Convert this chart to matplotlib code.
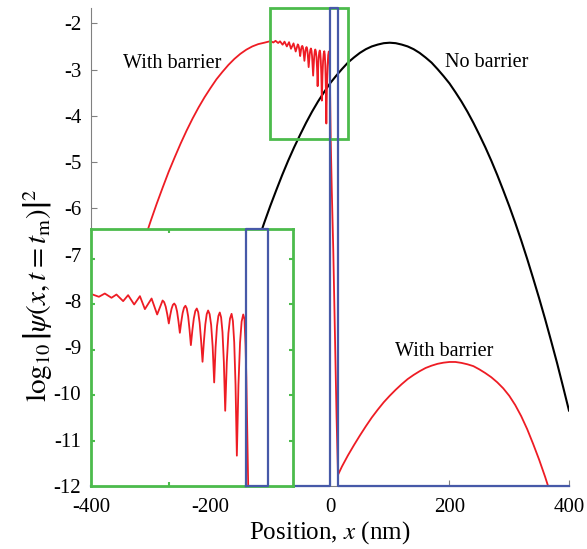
import numpy as np
import matplotlib
matplotlib.use("Agg")
import matplotlib.pyplot as plt
from matplotlib.patches import Rectangle

plt.rcParams['font.family'] = ['Liberation Serif', 'DejaVu Serif']
plt.rcParams['mathtext.fontset'] = 'stix'
plt.rcParams['axes.unicode_minus'] = False

# free wave packet, no barrier
x_free = [-120, -110, -100, -90, -80, -70, -60, -50, -40, -30, -20, -10, 0,
          10, 20, 30, 40, 50, 60, 70, 80, 90, 100, 110, 120, 130, 140, 150,
          160, 170, 180, 190, 200, 210, 220, 230, 240, 250, 260, 270, 280,
          290, 300, 310, 320, 330, 340, 350, 360, 370, 380, 390, 400]
y_free = [-6.69, -6.31, -5.95, -5.61, -5.28, -4.97, -4.68, -4.41, -4.15, -3.91,
          -3.69, -3.49, -3.30, -3.14, -2.99, -2.85, -2.74, -2.64, -2.56, -2.50,
          -2.46, -2.43, -2.42, -2.43, -2.46, -2.50, -2.56, -2.64, -2.74, -2.85,
          -2.99, -3.14, -3.30, -3.49, -3.69, -3.91, -4.15, -4.41, -4.68, -4.97,
          -5.28, -5.61, -5.95, -6.31, -6.69, -7.09, -7.51, -7.94, -8.39, -8.86,
          -9.34, -9.85, -10.37]

# with barrier: incident + reflected side
x_inc = [-310, -300, -290, -280, -270, -260, -250, -240, -230, -220, -210,
         -200, -190, -180, -170, -160, -150, -140, -130, -120, -110]
y_inc = [-6.66, -6.27, -5.90, -5.55, -5.21, -4.90, -4.60, -4.32, -4.06, -3.82,
         -3.60, -3.40, -3.21, -3.05, -2.90, -2.77, -2.66, -2.57, -2.50, -2.45,
         -2.42]

# interference fringes in front of the barrier
x_osc = [-99.6, -94.9, -91.1, -86.8, -83.6, -79.3, -76.1, -72.2, -68.5, -65.3,
         -61.0, -57.4, -53.9, -52.9, -51.9, -50.9, -49.9, -49.03, -48.15, -47.28,
         -46.4, -45.5, -44.6, -43.7, -42.8, -41.9, -41.0, -40.1, -39.2, -38.33,
         -37.45, -36.58, -35.7, -34.75, -33.8, -32.85, -31.9, -30.98, -30.05,
         -29.13, -28.2, -27.3, -26.4, -25.5, -24.6, -23.63, -22.65, -21.68,
         -20.7, -19.8, -18.9, -18.0, -17.1, -16.23, -15.35, -14.48, -13.6,
         -12.58, -11.55, -10.53, -9.5, -8.65, -7.8, -6.95, -6.1, -5.08, -4.05,
         -3.03, -2.0, -1.2, -0.5]
y_osc = [-2.386, -2.415, -2.379, -2.426, -2.390, -2.463, -2.397, -2.500, -2.408,
         -2.551, -2.434, -2.610, -2.456, -2.474, -2.524, -2.608, -2.709, -2.621,
         -2.548, -2.504, -2.489, -2.512, -2.576, -2.683, -2.812, -2.693, -2.594,
         -2.535, -2.514, -2.544, -2.631, -2.774, -2.948, -2.786, -2.653, -2.572,
         -2.544, -2.585, -2.702, -2.896, -3.131, -2.905, -2.719, -2.606, -2.566,
         -2.606, -2.725, -2.963, -3.359, -2.974, -2.742, -2.627, -2.588, -2.642,
         -2.805, -3.130, -3.671, -3.137, -2.817, -2.656, -2.603, -2.681, -2.916,
         -3.385, -4.166, -3.388, -2.921, -2.688, -2.610, -2.66, -2.95]

# inside the barrier
x_in = [0.0, 0.6, 1.2, 3.0, 5.5, 8.4, 11.0, 13.4]
y_in = [-3.3, -3.9, -4.5, -5.6, -6.9, -8.8, -10.5, -11.76]

# transmitted part
x_trans = [20, 30, 40, 50, 60, 70, 80, 90, 100, 110, 120, 130, 140, 150, 160,
           170, 180, 190, 200, 210, 220, 230, 240, 250, 260, 270, 280, 290,
           300, 310, 320, 330, 340, 350, 360, 370]
y_trans = [-11.58, -11.34, -11.12, -10.91, -10.71, -10.52, -10.35, -10.19,
           -10.05, -9.92, -9.80, -9.69, -9.60, -9.52, -9.45, -9.40, -9.36,
           -9.335, -9.32, -9.32, -9.34, -9.37, -9.41, -9.48, -9.56, -9.65,
           -9.76, -9.89, -10.05, -10.25, -10.49, -10.77, -11.09, -11.43,
           -11.80, -12.20]

x_barrier = [0, 14]
y_top = -1.67
y_bot = -12
zoom_x = [-100, 30]
zoom_y = [-4.5, -1.67]

x_red = x_inc + x_osc + x_in + x_trans
y_red = y_inc + y_osc + y_in + y_trans

RED = '#ee1c24'
BLUE = '#4659a8'
GREEN = '#4cbb4c'
GRAY = '#808080'

fig = plt.figure(figsize=(5.87, 5.49), dpi=100)
ax = fig.add_axes([0.155, 0.1148, 0.8143, 0.8706])

ax.plot(x_free, y_free, color='black', lw=1.5)
ax.plot(x_red, y_red, color=RED, lw=1.3)

# potential
b0, b1 = x_barrier
ax.plot([-400, b0, b0, b1, b1, 400], [y_bot, y_bot, y_top, y_top, y_bot, y_bot],
        color=BLUE, lw=1.6, clip_on=False, zorder=5)

ax.add_patch(Rectangle((zoom_x[0], zoom_y[0]), zoom_x[1] - zoom_x[0],
                       zoom_y[1] - zoom_y[0], fill=False, ec=GREEN, lw=2,
                       clip_on=False, zorder=4))

ax.set_xlim(-400, 400)
ax.set_ylim(y_bot, y_top)
ax.set_xticks([-400, -200, 0, 200, 400])
ax.set_yticks(range(-12, -1))
ax.tick_params(direction='in', length=4, color=GRAY, labelsize=15)
ax.tick_params(axis='x', pad=9)
ax.tick_params(axis='y', pad=7)
for s in ['top', 'right']:
    ax.spines[s].set_visible(False)
for s in ['left', 'bottom']:
    ax.spines[s].set_color(GRAY)
ax.set_xlabel('Position, $x$ (nm)', fontsize=18, labelpad=1)
ax.set_ylabel(r'$\log_{10}\left|\psi(x,t=t_\mathrm{m})\right|^2$', fontsize=21)
ax.yaxis.set_label_coords(-0.075, 0.40)

ax.text(-264.4, -2.97, 'With barrier', fontsize=14.5, ha='center', va='baseline')
ax.text(261.9, -2.94, 'No barrier', fontsize=14.5, ha='center', va='baseline')
ax.text(190.5, -9.19, 'With barrier', fontsize=14.5, ha='center', va='baseline')

# inset
ins = ax.inset_axes([-400, -12, 338, 5.55], transform=ax.transData)
ins.plot(x_red, y_red, color=RED, lw=1.3)
ins.plot([b0, b0, b1, b1, b0], [zoom_y[0], y_top, y_top, zoom_y[0], zoom_y[0]],
         color=BLUE, lw=1.6, clip_on=False, zorder=5)
ins.set_xlim(zoom_x)
ins.set_ylim(zoom_y)
ins.set_xticks([-50, 0])
ins.set_yticks([-4, -3.5, -3, -2.5, -2])
ins.tick_params(direction='in', length=3, color=GREEN, width=1.5,
                labelleft=False, labelbottom=False,
                top=True, right=True)
for s in ins.spines.values():
    s.set_color(GREEN)
    s.set_linewidth(2)

fig.savefig('out.png', dpi=100)
